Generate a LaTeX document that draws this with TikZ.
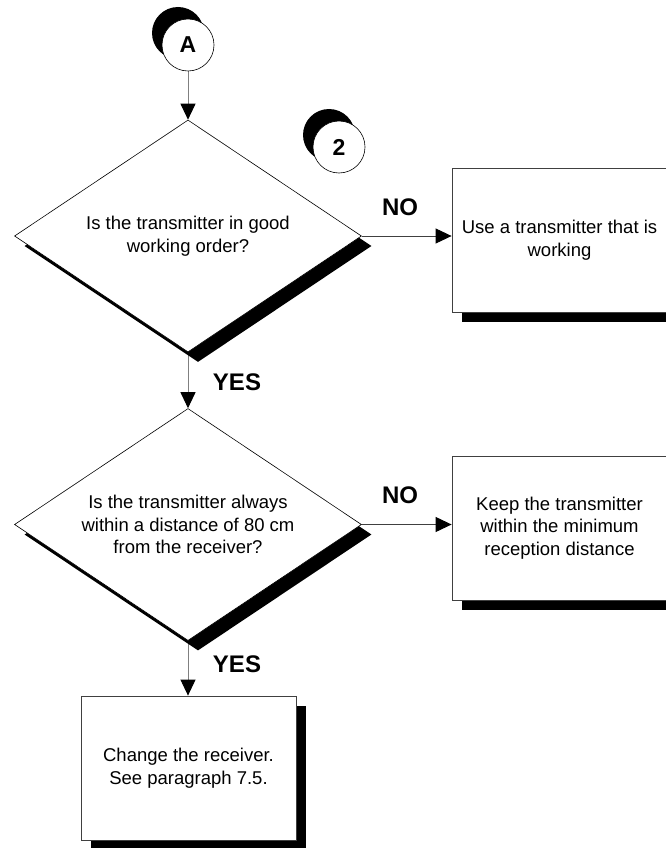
\documentclass[tikz,border=0pt]{standalone}
\usepackage{fontspec}
\setmainfont{Liberation Sans}
\usetikzlibrary{shapes.geometric,shadows,arrows.meta}
\pgfdeclarelayer{back}
\pgfsetlayers{back,main}
\begin{document}
\begin{tikzpicture}[x=1pt,y=-1pt,
  every node/.style={font=\fontsize{18.5}{22.5}\selectfont, align=center},
  decision/.style={diamond, draw=black, line width=0.6pt, fill=white,
    minimum width=347pt, minimum height=232pt, inner sep=0pt, aspect=1.5,
    general shadow={fill=black, shadow xshift=10pt, shadow yshift=-10pt}},
  action/.style={rectangle, draw=black!75, line width=0.8pt, fill=white,
    minimum width=215pt, minimum height=144pt, inner sep=0pt,
    general shadow={fill=black, shadow xshift=10pt, shadow yshift=-10pt}},
  pageref/.style={circle, draw=black, line width=0.6pt, fill=white,
    minimum size=52pt, inner sep=0pt, font=\fontsize{23}{23}\selectfont\bfseries,
    general shadow={fill=black, shadow xshift=-10pt, shadow yshift=12pt}},
  answer/.style={font=\fontsize{24}{24}\selectfont\bfseries},
  flow/.style={draw=black!50, line width=1pt,
    -{Triangle[length=16pt,width=15pt,color=black]}},
  sideflow/.style={flow, draw=black!75},
]
\useasboundingbox (0,0) rectangle (666,848);
\clip (0,0) rectangle (666,848);

% off-page connector and step number
\node[pageref] (A) at (188,45) {A};
\node[pageref] (step2) at (339,147) {2};

% decisions
\node[decision] (d1) at (188,236) {Is the transmitter in good\\working order?};
\node[decision] (d2) at (188,524.5) {Is the transmitter always\\within a distance of 80 cm\\from the receiver?};

% actions
\node[action] (b1) at (559.5,240) {Use a transmitter that is\\working};
\node[action] (b2) at (559.5,528) {Keep the transmitter\\within the minimum\\reception distance};
\node[action] (b3) at (188.5,768) {Change the receiver.\\See paragraph 7.5.};

% answers
\node[answer] (no1) at (400,207) {NO};
\node[answer] (yes1) at (237,382) {YES};
\node[answer] (no2) at (400,495) {NO};
\node[answer] (yes2) at (237,664) {YES};

% connectors
\begin{pgfonlayer}{back}
  \draw[flow] (A) -- (d1);
  \draw[sideflow] (d1.east) -- (d1.east -| b1.west);
  \draw[flow] (d1) -- (d2);
  \draw[sideflow] (d2.east) -- (d2.east -| b2.west);
  \draw[flow] (d2.south) -- (d2.south |- b3.north);
\end{pgfonlayer}
\end{tikzpicture}
\end{document}
